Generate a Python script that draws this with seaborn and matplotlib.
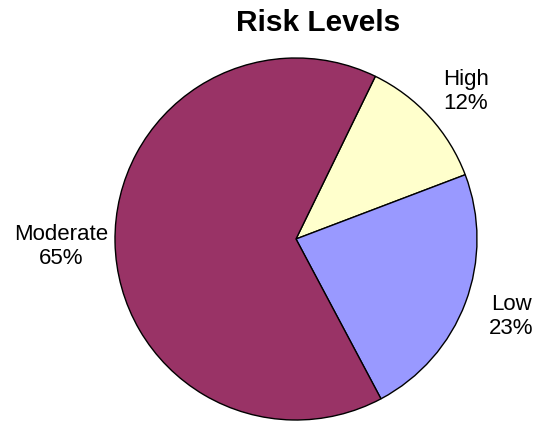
import matplotlib
matplotlib.use("Agg")
import matplotlib.pyplot as plt
import seaborn as sns

# Risk level shares (percent)
categories = ["High", "Low", "Moderate"]
shares = [12, 23, 65]
slice_colors = ["#FFFFCC", "#9999FF", "#993366"]

sns.set_theme(style="white")
plt.rcParams["font.family"] = ["Liberation Sans", "DejaVu Sans"]

W, H, DPI = 538, 421, 100
fig = plt.figure(figsize=(W / DPI, H / DPI), dpi=DPI)
ax = fig.add_axes([0, 0, 1, 1])

R_PX = 181.0
CX, CY = 296.0, 421 - 239.0

labels = [f"{c}\n{v}%" for c, v in zip(categories, shares)]
wedges, texts = ax.pie(
    shares,
    labels=labels,
    colors=slice_colors,
    startangle=64.0,
    counterclock=False,
    labeldistance=1.27,
    wedgeprops=dict(edgecolor="black", linewidth=1.0),
    textprops=dict(fontsize=16, color="black"),
)
for t in texts:
    t.set_ha("center")
    t.set_va("center")
    t.set_multialignment("center")

# small per-label offsets (in data units) for placement around the rim
offsets = [(0.0, -0.04), (0.0, 0.02), (-0.03, -0.02)]
for t, (dx, dy) in zip(texts, offsets):
    x, y = t.get_position()
    t.set_position((x + dx, y + dy))

ax.set_aspect("auto")
ax.set_xlim(-CX / R_PX, (W - CX) / R_PX)
ax.set_ylim(-CY / R_PX, (H - CY) / R_PX)
ax.axis("off")

fig.text(318 / W, 1 - 23 / H, "Risk Levels", ha="center", va="center",
         fontsize=21.5, fontweight="bold", color="black")

fig.savefig("out.png", dpi=DPI)
